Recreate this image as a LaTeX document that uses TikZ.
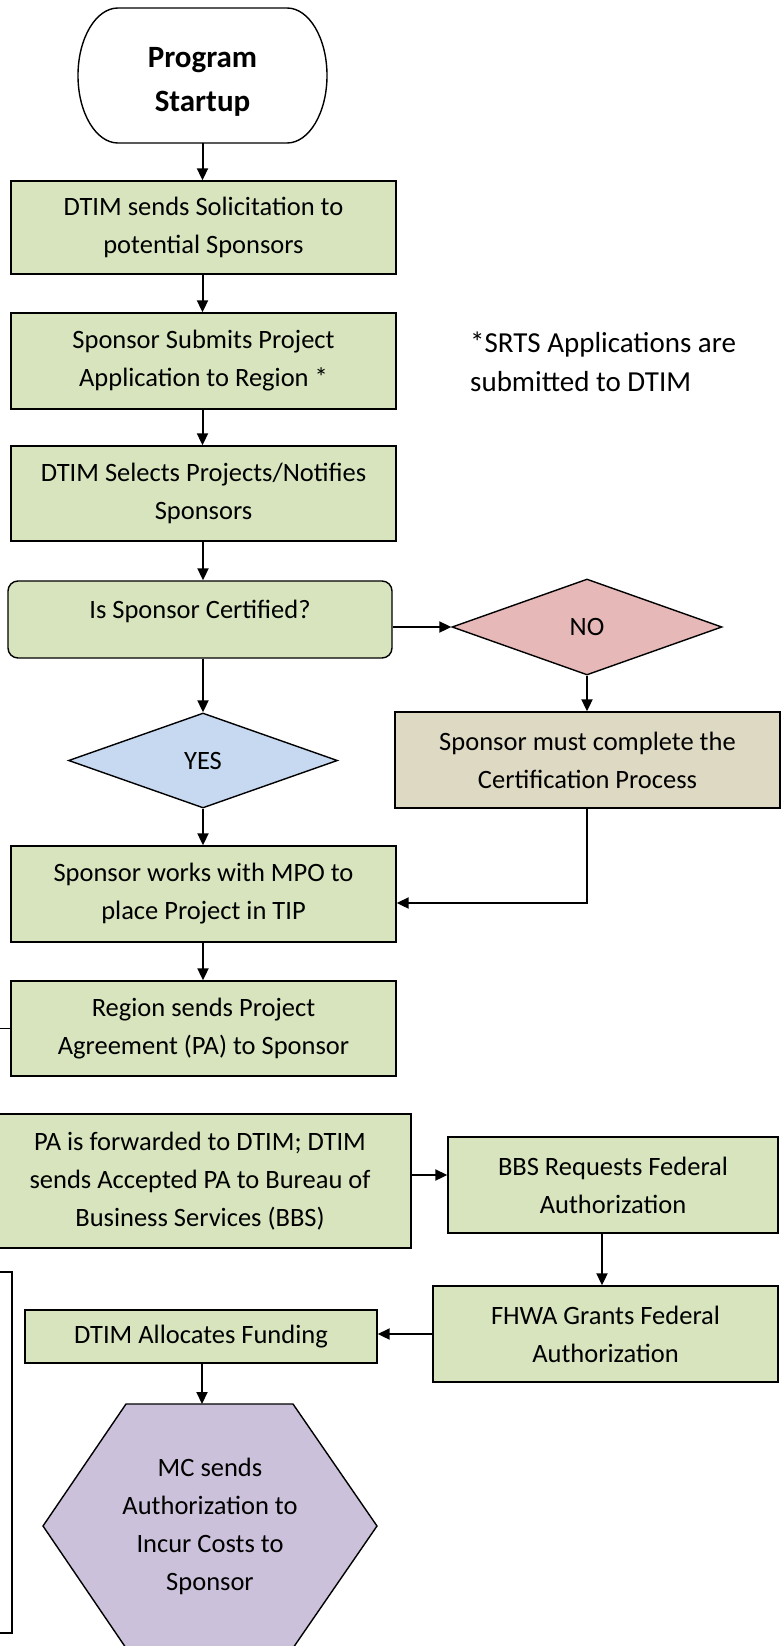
\documentclass[tikz,border=0pt]{standalone}
\usepackage{fontspec}
\setmainfont{Carlito}
\usetikzlibrary{arrows.meta,positioning,shapes.geometric}
\definecolor{boxgreen}{HTML}{D7E4BD}
\definecolor{nopink}{HTML}{E6B9B8}
\definecolor{yesblue}{HTML}{C6D9F1}
\definecolor{certtan}{HTML}{DDD9C3}
\definecolor{hexpurple}{HTML}{CCC1DA}
\tikzset{
  x=1pt, y=1pt,
  every node/.style={font=\fontsize{26.5}{38}\selectfont, align=center, inner sep=0pt},
  stepbox/.style={draw=black, line width=1.4pt, fill=boxgreen, rectangle},
  decision/.style={draw=black, line width=1.4pt, diamond, aspect=2.8},
  flow/.style={draw=black, line width=2pt, -{Triangle[length=12pt,width=11pt]}},
  outline/.style={draw=black, line width=1.4pt},
}
\begin{document}
\begin{tikzpicture}
\useasboundingbox (0,0) rectangle (781,-1646);
\clip (0,0) rectangle (781,-1646);
\fill[white] (0,0) rectangle (781,-1646);

% start terminator
\draw[outline, fill=white] (118,-8) -- (287,-8)
  arc[start angle=90, end angle=-90, x radius=40, y radius=67.5]
  -- (118,-143)
  arc[start angle=270, end angle=90, x radius=40, y radius=67.5] -- cycle;
\node[minimum width=249, minimum height=123, font=\fontsize{31}{44}\selectfont\bfseries]
  (start) at (202.5,-81.5) {Program\\Startup};

% main column
\node[stepbox, minimum width=385, minimum height=93] (solicit) at (203.5,-227.5)
  {DTIM sends Solicitation to\\potential Sponsors};
\node[stepbox, minimum width=385, minimum height=96] (submit) at (203.5,-361)
  {Sponsor Submits Project\\Application to Region *};
\node[stepbox, minimum width=385, minimum height=95] (select) at (203.5,-493.5)
  {DTIM Selects Projects/Notifies\\Sponsors};
\node[stepbox, rounded corners=10pt, minimum width=384, minimum height=77,
  text height=18pt, text depth=20pt] (cert) at (200,-619.5)
  {Is Sponsor Certified?};

\node[anchor=west, align=left, font=\fontsize{29}{39}\selectfont] (note) at (470,-362)
  {*SRTS Applications are\\submitted to DTIM};

% decisions
\node[decision, fill=nopink, minimum width=270, minimum height=96] (no) at (587,-627) {NO};
\node[decision, fill=yesblue, minimum width=269, minimum height=95] (yes) at (203,-760.5) {YES};

\node[stepbox, fill=certtan, minimum width=385, minimum height=96] (process) at (587.5,-760)
  {Sponsor must complete the\\Certification Process};

\node[stepbox, minimum width=385, minimum height=96] (tip) at (203.5,-894)
  {Sponsor works with MPO to\\place Project in TIP};
\node[stepbox, minimum width=385, minimum height=95] (agree) at (203.5,-1028.5)
  {Region sends Project\\Agreement (PA) to Sponsor};

\node[stepbox, minimum width=422, minimum height=134] (forward) at (200,-1181)
  {PA is forwarded to DTIM; DTIM\\sends Accepted PA to Bureau of\\Business Services (BBS)};
\node[stepbox, minimum width=330, minimum height=96] (bbs) at (613,-1185)
  {BBS Requests Federal\\Authorization};
\node[stepbox, minimum width=345, minimum height=96] (fhwa) at (605.5,-1334)
  {FHWA Grants Federal\\Authorization};
\node[stepbox, minimum width=352, minimum height=53] (fund) at (201,-1336.5)
  {DTIM Allocates Funding};

% left margin frame and stub
\draw[outline] (-40,-1272) -- (12,-1272) -- (12,-1633) -- (-40,-1633);
\draw[outline] (agree.west) -- ++(-30,0);

% hexagon
\draw[outline, fill=hexpurple] (126,-1404) -- (293,-1404) -- (377,-1526)
  -- (293,-1648) -- (126,-1648) -- (43,-1526) -- cycle;
\node (mc) at (210,-1526) {MC sends\\Authorization to\\Incur Costs to\\Sponsor};
\coordinate (hextop) at (202,-1404);

% connectors
\draw[flow] (start.south) -- (solicit.north -| start.south);
\draw[flow] (solicit.south -| start.south) -- (submit.north -| start.south);
\draw[flow] (submit.south -| start.south) -- (select.north -| start.south);
\draw[flow] (select.south -| yes.north) -- (cert.north -| yes.north);
\draw[flow] (cert.south -| yes.north) -- (yes.north);
\draw[flow] (yes.south) -- (tip.north -| yes.south);
\draw[flow] (tip.south -| yes.south) -- (agree.north -| yes.south);
\draw[flow] (cert.east |- no.west) -- (no.west);
\draw[flow] (no.south) -- (process.north -| no.south);
\draw[flow] (process.south -| no.south) |- ([yshift=-9pt]tip.east);
\draw[flow] ([yshift=6pt]forward.east) -- ([yshift=6pt]forward.east -| bbs.west);
\draw[flow] (bbs.south -| 602,0) -- (fhwa.north -| 602,0);
\draw[flow] (fhwa.west) -- (fhwa.west -| fund.east);
\draw[flow] (fund.south -| hextop) -- (hextop);
\end{tikzpicture}
\end{document}
